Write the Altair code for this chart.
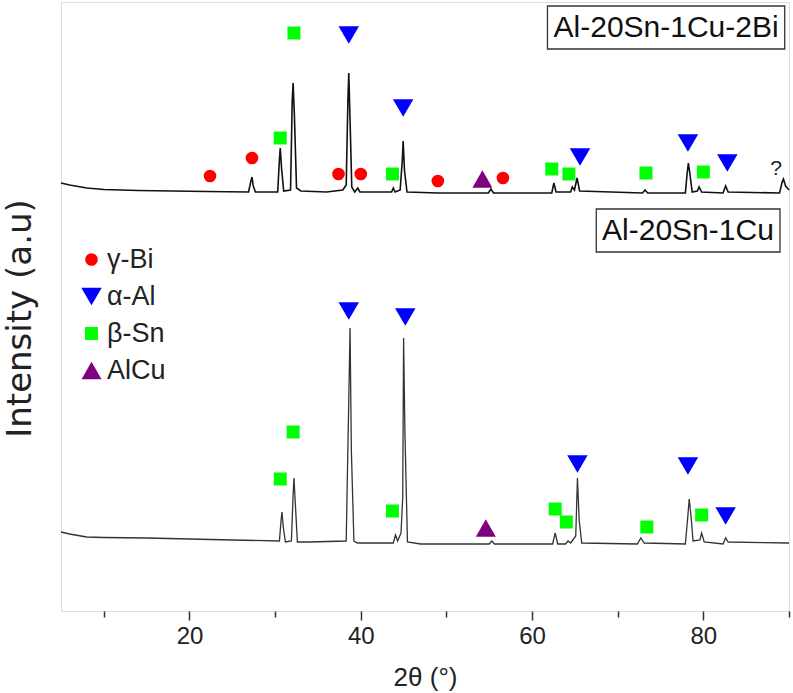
import altair as alt
import pandas as pd

FONT = "Liberation Sans"

# --- XRD pattern of Al-20Sn-1Cu-2Bi (upper trace, offset) ---
upper_theta = [5.0, 6.0, 8.0, 10.0, 14.0, 18.0, 22.0, 26.9, 27.15, 27.3, 27.45, 27.7,
               30.3, 30.5, 30.6, 30.75, 31.0, 31.8, 32.0, 32.1, 32.25, 32.5, 33.0, 36.0,
               37.9, 38.3, 38.5, 38.6, 38.75, 38.95, 39.3, 39.65, 39.9, 43.6, 43.8, 44.0,
               44.6, 44.85, 44.95, 45.1, 45.4, 49.0, 54.9, 55.2, 55.5, 62.3, 62.55, 62.8,
               64.5, 64.7, 64.95, 65.25, 65.55, 72.9, 73.2, 73.5, 77.9, 78.1, 78.25, 78.4,
               78.7, 79.3, 79.5, 79.8, 82.3, 82.6, 82.9, 88.9, 89.2, 89.35, 89.6, 90.0]
upper_int = [428, 426, 423, 421.5, 420.5, 420, 419.5, 419, 429, 434, 425, 419,
             419, 451, 463, 443, 420, 421, 511, 528, 496, 423, 420, 419,
             421, 426, 511, 538, 491, 424, 419, 423, 419, 419, 423, 419,
             421, 451, 470, 441, 419, 418, 418, 422, 418, 418, 428, 419,
             419, 424, 421, 433, 420, 418, 421, 418, 418, 437, 448, 439,
             419, 420, 424, 419, 418, 425, 419, 418, 429, 432, 425, 421]

# --- XRD pattern of Al-20Sn-1Cu (lower trace) ---
lower_theta = [5.0, 6.0, 8.0, 10.0, 15.0, 20.0, 25.0, 30.5, 30.7, 30.8, 30.95, 31.2,
               31.9, 32.1, 32.2, 32.35, 32.6, 34.0, 38.3, 38.6, 38.75, 38.9, 39.2, 39.6,
               43.8, 44.05, 44.3, 44.7, 44.9, 45.0, 45.15, 45.45, 47.0, 55.0, 55.3, 55.6,
               62.4, 62.7, 63.0, 63.9, 64.2, 64.5, 65.1, 65.3, 65.5, 65.8, 72.3, 72.7,
               73.1, 77.9, 78.15, 78.35, 78.55, 78.8, 79.6, 79.8, 80.1, 82.3, 82.6, 82.9,
               90.0]
lower_int = [79, 77, 74, 73.5, 73, 72, 71, 70, 91, 99, 84, 69,
             70, 116, 133, 109, 69, 69, 70, 211, 283, 161, 70, 68,
             68, 76, 70, 78, 114, 273, 181, 69, 67, 67, 70, 67,
             67, 78, 67, 67, 70, 68, 75, 133, 91, 68, 67, 73,
             68, 67, 91, 112, 96, 70, 71, 78, 69, 67, 73, 69,
             68]

# --- phase identification markers ---
phases = ["γ-Bi", "α-Al", "β-Sn", "AlCu"]
phase_colors = ["#ff0000", "#0000ff", "#00ff00", "#800080"]
phase_shapes = ["circle", "triangle-down", "square", "triangle-up"]
phase_sizes = [160, 420, 169, 400]

marker_phase = (["γ-Bi"] * 6 + ["α-Al"] * 5 + ["β-Sn"] * 7 + ["AlCu"]
                + ["α-Al"] * 5 + ["β-Sn"] * 7 + ["AlCu"])
marker_theta = [22.4, 27.3, 37.4, 40.0, 49.0, 56.6,
                38.6, 44.95, 65.6, 78.2, 82.8,
                30.6, 32.2, 43.7, 62.3, 64.3, 73.3, 80.0,
                54.2,
                38.6, 45.2, 65.3, 78.2, 82.6,
                30.6, 32.1, 43.7, 62.7, 64.0, 73.4, 79.8,
                54.6]
marker_int = [435, 453, 437, 437, 430, 433,
              576, 503, 454, 468, 448,
              473, 578, 437, 442, 437, 438, 439,
              432,
              300, 294, 147, 145, 95,
              132, 179, 100, 102, 89, 84, 96,
              83]

# --- sample labels in boxes ---
sample_names = ["Al-20Sn-1Cu-2Bi", "Al-20Sn-1Cu"]
box_theta = [61.8, 67.5]
box_theta2 = [89.5, 88.95]
box_int = [562, 359]
box_int2 = [605, 402]
label_theta = [75.65, 78.2]
label_int = [583.5, 380.5]

upper_df = pd.DataFrame({"theta": upper_theta, "intensity": upper_int})
lower_df = pd.DataFrame({"theta": lower_theta, "intensity": lower_int})
marker_df = pd.DataFrame({"theta": marker_theta, "intensity": marker_int, "phase": marker_phase})
box_df = pd.DataFrame({"theta": box_theta, "theta2": box_theta2,
                       "intensity": box_int, "intensity2": box_int2})
label_df = pd.DataFrame({"theta": label_theta, "intensity": label_int, "name": sample_names})
unknown_df = pd.DataFrame({"theta": [88.5], "intensity": [442], "name": ["?"]})

x_axis = alt.Axis(
    values=[10, 20, 30, 40, 50, 60, 70, 80, 90],
    labelExpr="datum.value % 20 === 0 ? datum.label : ''",
    grid=False, domain=False,
    tickColor="#333", tickWidth=1.5,
    tickSize={"condition": {"test": "datum.value % 20 === 0", "value": 9}, "value": 6},
    labelFont=FONT, labelFontSize=24, labelColor="#222", labelPadding=4,
    title="2θ (°)", titleFont=FONT, titleFontSize=26, titleFontWeight="normal",
    titleColor="#222", titleBaseline="middle", titleY=66,
)
y_axis = alt.Axis(
    labels=False, ticks=False, domain=False, grid=False,
    title="Intensity (a.u)", titleFont="DejaVu Sans", titleFontSize=34,
    titleFontWeight="normal", titleColor="#222",
    titleX=-41, titleY=316, titleAlign="center", titleBaseline="middle", titleAngle=-90,
)
x_scale = alt.Scale(domain=[5, 90], nice=False, zero=False)
y_scale = alt.Scale(domain=[0, 609], nice=False, zero=False)

X = alt.X("theta:Q", scale=x_scale, axis=x_axis)
Y = alt.Y("intensity:Q", scale=y_scale, axis=y_axis)

upper_line = alt.Chart(upper_df).mark_line(color="#111", strokeWidth=1.6).encode(x=X, y=Y)
lower_line = alt.Chart(lower_df).mark_line(color="#333", strokeWidth=1.3).encode(x=X, y=Y)

markers = alt.Chart(marker_df).mark_point(filled=True, opacity=1, strokeWidth=0).encode(
    x=X, y=Y,
    color=alt.Color("phase:N", scale=alt.Scale(domain=phases, range=phase_colors),
                    legend=alt.Legend(orient="none", legendX=17, legendY=244, title=None,
                                      labelFont=FONT, labelFontSize=27, labelColor="#222",
                                      rowPadding=9, labelOffset=2, padding=0,
                                      symbolOpacity=1, symbolStrokeWidth=0)),
    shape=alt.Shape("phase:N", scale=alt.Scale(domain=phases, range=phase_shapes)),
    size=alt.Size("phase:N", scale=alt.Scale(type="ordinal", domain=phases, range=phase_sizes)),
)

boxes = alt.Chart(box_df).mark_rect(fill="white", stroke="#333", strokeWidth=1.3).encode(
    x=X, x2="theta2:Q", y=Y, y2="intensity2:Q"
)
labels = alt.Chart(label_df).mark_text(font=FONT, fontSize=30, color="#111",
                                       baseline="middle").encode(x=X, y=Y, text="name:N")
unknown = alt.Chart(unknown_df).mark_text(font=FONT, fontSize=21, color="#222",
                                          baseline="middle").encode(x=X, y=Y, text="name:N")

chart = alt.layer(upper_line, lower_line, markers, boxes, labels, unknown).properties(
    width=728, height=609,
    autosize=alt.AutoSizeParams(type="none"),
    padding={"left": 61, "top": 2, "right": 4, "bottom": 82},
).configure_view(stroke="#333", strokeWidth=1.5).configure(background="white")

chart.save("out.html", embed_options={"renderer": "svg", "actions": False})
